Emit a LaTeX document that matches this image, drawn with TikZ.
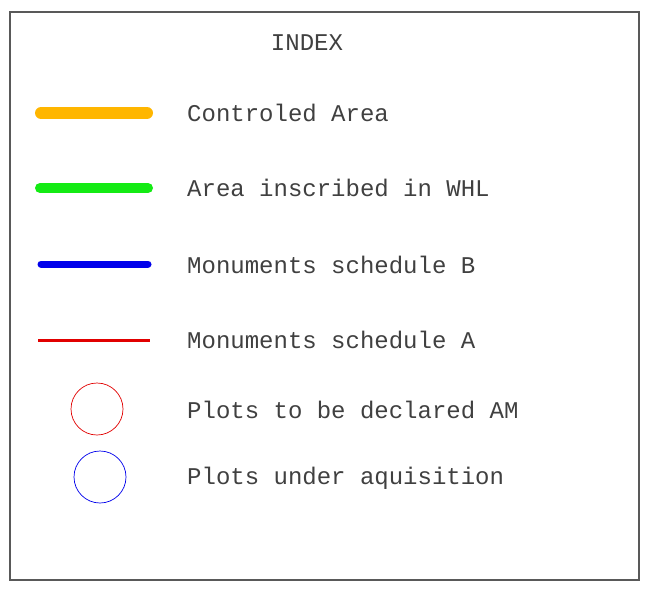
\documentclass[tikz,border=0pt]{standalone}
\usepackage{fontspec}
\setmonofont{Liberation Mono}
\usepackage{xcolor}
\definecolor{ctrlorange}{RGB}{255, 182, 0}
\definecolor{whlgreen}{RGB}{20, 235, 20}
\definecolor{schedblue}{RGB}{0, 0, 235}
\definecolor{schedred}{RGB}{225, 0, 0}
\usetikzlibrary{positioning}

\begin{document}
\begin{tikzpicture}[
    x=1pt,y=-1pt,
    label/.style={anchor=west,inner sep=0pt,font=\ttfamily\fontsize{24}{26}\selectfont,text=black!75},
    swatch/.style={line cap=round},
    plot/.style={circle,draw,minimum size=52pt,inner sep=0pt,line width=0.7pt}
  ]
  \useasboundingbox (0,0) rectangle (652,589);
  \draw[black!65,line width=1.2pt] (10,12) rectangle (639,580);

  \node (title) at (307,43) [inner sep=0pt,font=\ttfamily\fontsize{24}{26}\selectfont,text=black!75] {INDEX};

  % lines
  \coordinate (ctrl-w) at (41,113);  \coordinate (ctrl-e) at (147,113);
  \coordinate (whl-w)  at (40,188);  \coordinate (whl-e)  at (148,188);
  \coordinate (schb-w) at (41,264);  \coordinate (schb-e) at (148,264);
  \coordinate (scha-w) at (38,340);  \coordinate (scha-e) at (150,340);
  \draw[swatch,ctrlorange,line width=12pt] (ctrl-w) -- (ctrl-e);
  \draw[swatch,whlgreen,line width=10pt] (whl-w) -- (whl-e);
  \draw[swatch,schedblue,line width=7pt] (schb-w) -- (schb-e);
  \draw[schedred,line width=3pt] (scha-w) -- (scha-e);

  % circles
  \node (declared) at (97,409) [plot,schedred] {};
  \node (aquis) at (100,477) [plot,schedblue] {};

  % texts
  \node (ctrl)  at (187,113) [label] {Controled Area};
  \node (whl)   at (187,188) [label] {Area inscribed in WHL};
  \node (schb)  at (187,265) [label] {Monuments schedule B};
  \node (scha)  at (187,340) [label] {Monuments schedule A};
  \node (decl)  at (187,410) [label] {Plots to be declared AM};
  \node (under) at (187,478) [label] {Plots under aquisition};
\end{tikzpicture}
\end{document}
